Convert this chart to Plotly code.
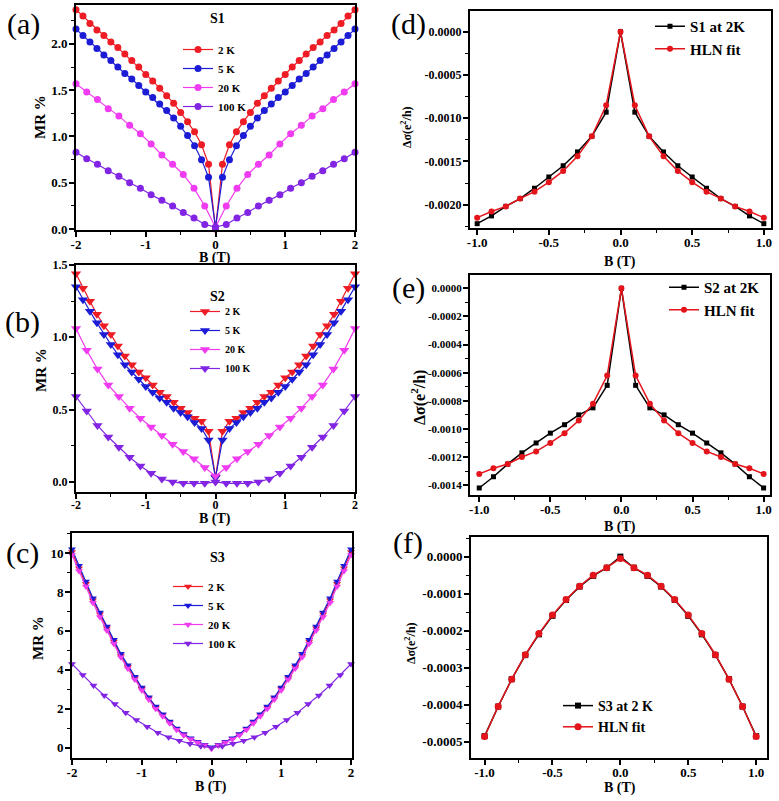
import plotly.graph_objects as go

W, H = 779, 801
SERIF = "Liberation Serif"

# ---- field grids (T) ----
B_FINE = [-2.0, -1.9, -1.8, -1.7, -1.6, -1.5, -1.4, -1.3, -1.2, -1.1, -1.0,
          -0.9, -0.8, -0.7, -0.6, -0.5, -0.4, -0.3, -0.2, -0.1, 0.0,
          0.1, 0.2, 0.3, 0.4, 0.5, 0.6, 0.7, 0.8, 0.9, 1.0,
          1.1, 1.2, 1.3, 1.4, 1.5, 1.6, 1.7, 1.8, 1.9, 2.0]
B_COARSE = [-2.0, -1.846, -1.692, -1.538, -1.385, -1.231, -1.077, -0.923, -0.769,
            -0.615, -0.462, -0.308, -0.154, 0.0, 0.154, 0.308, 0.462, 0.615,
            0.769, 0.923, 1.077, 1.231, 1.385, 1.538, 1.692, 1.846, 2.0]
B_FIT = [-1.0, -0.9, -0.8, -0.7, -0.6, -0.5, -0.4, -0.3, -0.2, -0.1, 0.0,
         0.1, 0.2, 0.3, 0.4, 0.5, 0.6, 0.7, 0.8, 0.9, 1.0]

TEMPS = ["2 K", "5 K", "20 K", "100 K"]

# ---- (a) S1 MR % ----
S1_2K = [2.37, 2.30, 2.22, 2.15, 2.09, 2.02, 1.96, 1.89, 1.82, 1.75, 1.67,
         1.60, 1.52, 1.44, 1.36, 1.26, 1.16, 1.05, 0.91, 0.70, 0.00,
         0.70, 0.91, 1.05, 1.16, 1.26, 1.36, 1.44, 1.52, 1.60, 1.67,
         1.75, 1.82, 1.89, 1.96, 2.02, 2.09, 2.15, 2.22, 2.30, 2.37]
S1_5K = [2.16, 2.09, 2.02, 1.95, 1.88, 1.82, 1.75, 1.68, 1.62, 1.55, 1.48,
         1.42, 1.35, 1.28, 1.20, 1.11, 1.01, 0.90, 0.75, 0.56, 0.02,
         0.56, 0.75, 0.90, 1.01, 1.11, 1.20, 1.28, 1.35, 1.42, 1.48,
         1.55, 1.62, 1.68, 1.75, 1.82, 1.88, 1.95, 2.02, 2.09, 2.16]
S1_20K = [1.57, 1.48, 1.40, 1.30, 1.22, 1.12, 1.03, 0.92, 0.80, 0.70, 0.59, 0.44, 0.25,
          0.02,
          0.25, 0.44, 0.59, 0.70, 0.80, 0.92, 1.03, 1.12, 1.22, 1.30, 1.40, 1.48, 1.57]
S1_100K = [0.83, 0.76, 0.70, 0.63, 0.57, 0.50, 0.44, 0.37, 0.31, 0.25, 0.18, 0.12, 0.05,
           0.02,
           0.05, 0.12, 0.18, 0.25, 0.31, 0.37, 0.44, 0.50, 0.57, 0.63, 0.70, 0.76, 0.83]

# ---- (b) S2 MR % ----
S2_2K = [1.44, 1.34, 1.25, 1.16, 1.08, 1.02, 0.94, 0.87, 0.81, 0.76, 0.72,
         0.67, 0.62, 0.59, 0.55, 0.51, 0.48, 0.44, 0.42, 0.35, 0.03,
         0.35, 0.42, 0.44, 0.48, 0.51, 0.55, 0.59, 0.62, 0.67, 0.72,
         0.76, 0.81, 0.87, 0.94, 1.02, 1.08, 1.16, 1.25, 1.34, 1.44]
S2_5K = [1.35, 1.26, 1.18, 1.10, 1.02, 0.95, 0.88, 0.81, 0.76, 0.71, 0.66,
         0.62, 0.58, 0.55, 0.51, 0.48, 0.45, 0.41, 0.37, 0.29, 0.03,
         0.29, 0.37, 0.41, 0.45, 0.48, 0.51, 0.55, 0.58, 0.62, 0.66,
         0.71, 0.76, 0.81, 0.88, 0.95, 1.02, 1.10, 1.18, 1.26, 1.35]
S2_20K = [1.06, 0.91, 0.78, 0.67, 0.59, 0.51, 0.44, 0.38, 0.32, 0.26, 0.21, 0.16, 0.10,
          0.04,
          0.10, 0.16, 0.21, 0.26, 0.32, 0.38, 0.44, 0.51, 0.59, 0.67, 0.78, 0.91, 1.06]
S2_100K = [0.59, 0.49, 0.39, 0.31, 0.24, 0.17, 0.11, 0.06, 0.02, 0.00, -0.01, -0.01, -0.01,
           0.00,
           -0.01, -0.01, -0.01, 0.00, 0.02, 0.06, 0.11, 0.17, 0.24, 0.31, 0.39, 0.49, 0.59]

# ---- (c) S3 MR % ----
S3_2K = [10.05, 9.22, 8.42, 7.57, 6.85, 6.13, 5.45, 4.74, 4.16, 3.58, 3.03,
         2.54, 2.07, 1.68, 1.30, 0.96, 0.68, 0.46, 0.29, 0.13, 0.00,
         0.13, 0.29, 0.46, 0.68, 0.96, 1.30, 1.68, 2.07, 2.54, 3.03,
         3.58, 4.16, 4.74, 5.45, 6.13, 6.85, 7.57, 8.42, 9.22, 10.05]
S3_5K = [10.20, 9.35, 8.54, 7.68, 6.95, 6.23, 5.54, 4.82, 4.24, 3.65, 3.09,
         2.59, 2.11, 1.72, 1.34, 0.99, 0.70, 0.48, 0.31, 0.15, 0.02,
         0.15, 0.31, 0.48, 0.70, 0.99, 1.34, 1.72, 2.11, 2.59, 3.09,
         3.65, 4.24, 4.82, 5.54, 6.23, 6.95, 7.68, 8.54, 9.35, 10.20]
S3_20K = [9.90, 9.08, 8.28, 7.44, 6.72, 6.02, 5.34, 4.64, 4.07, 3.50, 2.95,
          2.47, 2.00, 1.62, 1.25, 0.92, 0.64, 0.43, 0.27, 0.12, -0.05,
          0.12, 0.27, 0.43, 0.64, 0.92, 1.25, 1.62, 2.00, 2.47, 2.95,
          3.50, 4.07, 4.64, 5.34, 6.02, 6.72, 7.44, 8.28, 9.08, 9.90]
S3_100K = [4.30, 3.74, 3.19, 2.68, 2.25, 1.80, 1.42, 1.08, 0.77, 0.53, 0.35, 0.20, 0.08,
           0.00,
           0.08, 0.20, 0.35, 0.53, 0.77, 1.08, 1.42, 1.80, 2.25, 2.68, 3.19, 3.74, 4.30]

# ---- (d)-(f) conductance change, data vs HLN fit ----
D_DATA = [-0.00222, -0.00213, -0.00202, -0.00193, -0.00181, -0.00168, -0.00155, -0.00139,
          -0.00121, -0.00093, 0.0, -0.00093, -0.00121, -0.00139, -0.00155, -0.00168,
          -0.00181, -0.00193, -0.00202, -0.00213, -0.00222]
D_FIT = [-0.00215, -0.00208, -0.00202, -0.00193, -0.00185, -0.00174, -0.00161, -0.00144,
         -0.00121, -0.00085, 0.0, -0.00085, -0.00121, -0.00144, -0.00161, -0.00174,
         -0.00185, -0.00193, -0.00202, -0.00208, -0.00215]
E_DATA = [-0.00142, -0.00134, -0.00125, -0.00117, -0.00110, -0.00103, -0.00097, -0.00090,
          -0.00085, -0.00069, 0.0, -0.00069, -0.00085, -0.00090, -0.00097, -0.00103,
          -0.00110, -0.00117, -0.00125, -0.00134, -0.00142]
E_FIT = [-0.00132, -0.00128, -0.00125, -0.00120, -0.00116, -0.00110, -0.00103, -0.00094,
         -0.00082, -0.00062, 0.0, -0.00062, -0.00082, -0.00094, -0.00103, -0.00110,
         -0.00116, -0.00120, -0.00125, -0.00128, -0.00132]
F_DATA = [-0.000485, -0.000405, -0.000331, -0.000266, -0.000210, -0.000160, -0.000117,
          -0.000081, -0.000052, -0.000030, 0.0, -0.000030, -0.000052, -0.000081,
          -0.000117, -0.000160, -0.000210, -0.000266, -0.000331, -0.000405, -0.000485]
F_FIT = [-0.000486, -0.000405, -0.000331, -0.000265, -0.000208, -0.000158, -0.000116,
         -0.000080, -0.000050, -0.000030, -0.000005, -0.000030, -0.000050, -0.000080,
         -0.000116, -0.000158, -0.000208, -0.000265, -0.000331, -0.000405, -0.000486]

RED = "#ee1c25"
BLUE = "#1c1cd6"
MAGENTA = "#f03cf0"
VIOLET = "#8224e3"
HLN_RED = "#e4141b"
TEMP_COLORS = [RED, BLUE, MAGENTA, VIOLET]


def dom_x(left, right):
    return [left / W, right / W]


def dom_y(top, bottom):
    return [1 - bottom / H, 1 - top / H]


def axis(domain, rng, ticks, fmt, minor, tick_size, anchor, standoff):
    return dict(
        domain=domain, range=rng, anchor=anchor,
        tickmode="array", tickvals=ticks, ticktext=[format(v, fmt) for v in ticks],
        ticks="outside", ticklen=5, tickwidth=1.5, tickcolor="black",
        ticklabelstandoff=standoff,
        showline=True, linewidth=2, linecolor="black", mirror=True,
        showgrid=False, zeroline=False, automargin=False,
        tickfont=dict(family=SERIF, size=tick_size, color="black", weight="bold"),
        minor=dict(ticks="outside", ticklen=3, tickwidth=1.2, tickcolor="black",
                   tick0=0, dtick=minor, showgrid=False),
    )


fig = go.Figure()


def mr_panel(n, xs, ys, symbol, size, legend):
    for name, x, y, c in zip(TEMPS, xs, ys, TEMP_COLORS):
        fig.add_trace(go.Scatter(
            x=x, y=y, name=name, mode="lines+markers", legend=legend,
            xaxis=f"x{n}", yaxis=f"y{n}", cliponaxis=False,
            line=dict(color=c, width=1.2),
            marker=dict(symbol=symbol, size=size, color=c),
        ))


def fit_panel(n, data, fit, label, legend, msize):
    fig.add_trace(go.Scatter(
        x=B_FIT, y=data, name=label, mode="lines+markers", legend=legend,
        xaxis=f"x{n}", yaxis=f"y{n}", cliponaxis=False,
        line=dict(color="black", width=1.5),
        marker=dict(symbol="square", size=msize - 1, color="black"),
    ))
    fig.add_trace(go.Scatter(
        x=B_FIT, y=fit, name="HLN fit", mode="lines+markers", legend=legend,
        xaxis=f"x{n}", yaxis=f"y{n}", cliponaxis=False,
        line=dict(color=HLN_RED, width=1.5),
        marker=dict(symbol="circle", size=msize, color=HLN_RED),
    ))


mr_panel("", [B_FINE, B_FINE, B_COARSE, B_COARSE], [S1_2K, S1_5K, S1_20K, S1_100K],
         "circle", 7, "legend")
fit_panel("2", D_DATA, D_FIT, "S1 at 2K", "legend2", 6)
mr_panel("3", [B_FINE, B_FINE, B_COARSE, B_COARSE], [S2_2K, S2_5K, S2_20K, S2_100K],
         "triangle-down", 9, "legend3")
fit_panel("4", E_DATA, E_FIT, "S2 at 2K", "legend4", 6)
mr_panel("5", [B_FINE, B_FINE, B_FINE, B_COARSE], [S3_2K, S3_5K, S3_20K, S3_100K],
         "triangle-down", 7, "legend5")
fit_panel("6", F_DATA, F_FIT, "S3 at 2 K", "legend6", 7)

MR_TICKS_X = [-2.0, -1.0, 0.0, 1.0, 2.0]
FIT_TICKS_X = [-1.0, -0.5, 0.0, 0.5, 1.0]


def legend(x, y, size):
    return dict(x=x / W, y=1 - y / H, xanchor="left", yanchor="top",
                bgcolor="rgba(0,0,0,0)", borderwidth=0, tracegroupgap=0,
                font=dict(family=SERIF, size=size, color="black", weight="bold"))


XS, YS = -4, -1
fig.update_layout(
    width=W, height=H, margin=dict(l=0, r=0, t=0, b=0),
    paper_bgcolor="white", plot_bgcolor="white", showlegend=True,
    xaxis=axis(dom_x(76, 355), [-2, 2], MR_TICKS_X, ".0f", 0.5, 13, "y", XS),
    yaxis=axis(dom_y(5, 230), [-0.01, 2.42], [0.0, 0.5, 1.0, 1.5, 2.0], ".1f", 0.25, 13,
               "x", YS),
    xaxis2=axis(dom_x(470, 771), [-1.05, 1.05], FIT_TICKS_X, ".1f", 0.25, 13, "y2", XS),
    yaxis2=axis(dom_y(11, 228), [-0.00227, 0.00024],
                [0.0, -0.0005, -0.001, -0.0015, -0.002], ".4f", 0.00025, 12, "x2", YS),
    xaxis3=axis(dom_x(76, 355), [-2, 2], MR_TICKS_X, ".0f", 0.5, 12, "y3", XS),
    yaxis3=axis(dom_y(265, 492), [-0.07, 1.5], [0.0, 0.5, 1.0, 1.5], ".1f", 0.25, 12,
                "x3", YS),
    xaxis4=axis(dom_x(470, 770), [-1.065, 1.045], FIT_TICKS_X, ".1f", 0.25, 13, "y4", XS),
    yaxis4=axis(dom_y(275, 495), [-0.00147, 0.000095],
                [0.0, -0.0002, -0.0004, -0.0006, -0.0008, -0.001, -0.0012, -0.0014], ".4f",
                0.0001, 11, "x4", YS),
    xaxis5=axis(dom_x(72, 352), [-2, 2.014], MR_TICKS_X, ".0f", 0.5, 13, "y5", XS),
    yaxis5=axis(dom_y(533, 758), [-0.53, 11.03], [0, 2, 4, 6, 8, 10], ".0f", 1, 13,
                "x5", YS),
    xaxis6=axis(dom_x(471, 767), [-1.1, 1.08], FIT_TICKS_X, ".1f", 0.25, 13, "y6", XS),
    yaxis6=axis(dom_y(537, 758), [-0.000544, 0.000053],
                [0.0, -0.0001, -0.0002, -0.0003, -0.0004, -0.0005], ".4f", 0.00005, 13,
                "x6", YS),
    legend=legend(178, 35, 11),
    legend2=legend(650, 10, 15),
    legend3=legend(185, 297, 10),
    legend4=legend(664, 271, 15),
    legend5=legend(168, 572, 11),
    legend6=legend(558, 690, 14),
)


def label(text, x, y, size, bold=True, angle=0):
    fig.add_annotation(text=text, x=x / W, y=1 - y / H, xref="paper", yref="paper",
                       showarrow=False, xanchor="center", yanchor="middle", textangle=angle,
                       font=dict(family=SERIF, size=size, color="black",
                                 weight="bold" if bold else "normal"))


# panel letters
for text, x, y in [("(a)", 23, 24), ("(d)", 408, 24), ("(b)", 22, 322),
                   ("(e)", 408, 288), ("(c)", 22, 553), ("(f)", 408, 543)]:
    label(text, x, y, 30, bold=False)

# sample names
for text, x, y in [("S1", 217, 18), ("S2", 217, 296), ("S3", 217, 557)]:
    label(text, x, y, 14)

# axis titles
for x, y in [(215, 258), (620, 262), (215, 519), (620, 527), (211, 787), (620, 788)]:
    label("B (T)", x, y, 14)
for x, y in [(40, 117), (41, 370), (38, 638)]:
    label("MR %", x, y, 15, angle=-90)
DSIG = "Δσ(e<sup>2</sup>/h)"
for x, y, size in [(407, 127, 12), (418, 398, 16), (410, 643, 12)]:
    label(DSIG, x, y, size, angle=-90)

# drop the default page margin so the 779x801 figure fills the window exactly
fig.write_html("out.html", config={"displayModeBar": False},
               post_script="document.body.style.margin='0';")
